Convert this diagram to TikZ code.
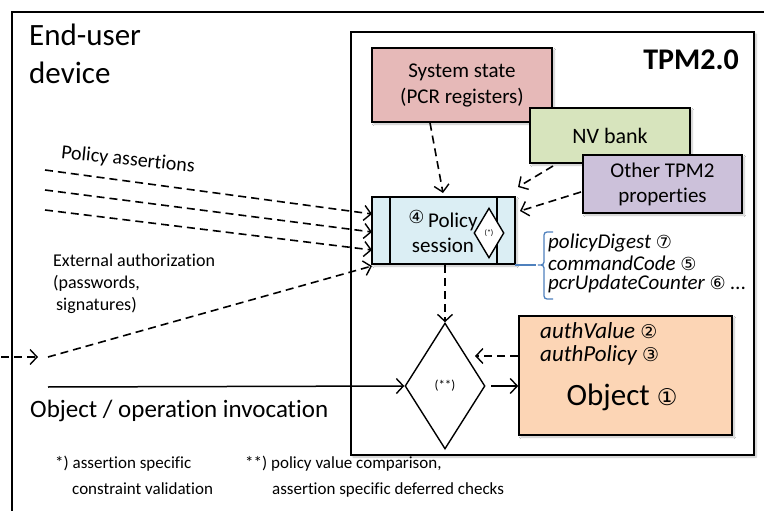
\documentclass[tikz,border=0pt]{standalone}
\usepackage{fontspec}
\setmainfont[Ligatures=NoCommon]{Carlito}
\newfontfamily\symfont{DejaVu Sans}
\usetikzlibrary{arrows.meta,shapes.geometric,shadows.blur}

\definecolor{pcrfill}{HTML}{E6B9B8}
\definecolor{nvfill}{HTML}{D7E4BD}
\definecolor{otherfill}{HTML}{CCC1DA}
\definecolor{sessfill}{HTML}{DBEEF4}
\definecolor{objfill}{HTML}{FCD5B5}
\definecolor{bracecol}{HTML}{4F81BD}

% circled reference numbers
\newcommand\cnum[1]{{\symfont #1}}
\newcommand\fs[2]{\fontsize{#1}{#2}\selectfont}

\begin{document}
\begin{tikzpicture}[x=1pt,y=-1pt,
  shade/.style={blur shadow={shadow xshift=2pt,shadow yshift=-2pt,shadow blur steps=6,shadow opacity=25}},
  colbox/.style={draw=black,line width=1.6pt,shade,align=center,inner sep=0pt},
  tip/.style={-{Straight Barb[length=7pt,width=15pt,line width=1.4pt]}},
  dasharrow/.style={dash pattern=on 8pt off 5pt,line width=1.6pt,tip},
  solidarrow/.style={line width=1.5pt,tip},
  txt/.style={inner sep=0pt,align=left}
]
\useasboundingbox (0,0) rectangle (764,511);

% device frame (continues past the right and lower edges)
\draw[line width=1.8pt] (764,12) -- (12,12) -- (12,511);
\node[txt,anchor=north west,font=\fs{31}{38}] (dev) at (29,24) {End-user\\device};

% TPM frame
\node[draw,line width=1.8pt,fill=white,shade,minimum width=403pt,minimum height=423pt,inner sep=0pt] (tpm) at (552.5,243.5) {};
\node[txt,anchor=east,font=\fs{30}{34}\bfseries] (tpmlbl) at (739,60) {TPM2.0};

% state sources
\node[colbox,fill=pcrfill,minimum width=180pt,minimum height=74pt,font=\fs{21}{26}] (sys) at (462,85) {System state\\(PCR registers)};
\node[colbox,fill=nvfill,minimum width=160pt,minimum height=55pt,font=\fs{22}{26}] (nv) at (610,135.5) {NV bank};
\node[colbox,fill=otherfill,minimum width=159pt,minimum height=58pt,font=\fs{21}{25}] (oth) at (662.5,184) {Other TPM2\\properties};

% policy session
\node[colbox,fill=sessfill,minimum width=143pt,minimum height=67pt] (sess) at (443.5,230.5) {};
\draw[line width=1.4pt] (390,197) -- (390,264);
\draw[line width=1.4pt] (497,197) -- (497,264);
\node[txt,align=center,font=\fs{21}{25}] (sesslbl) at (443,231) {\raisebox{4pt}{\cnum{\fs{18}{20}④}}\,Policy\\session};
\node[diamond,draw,line width=1.4pt,fill=white,minimum width=30pt,minimum height=50pt,inner sep=0pt,font=\fs{8}{9}] (chk) at (489,233) {(*)};

% session variables
\draw[bracecol,line width=1.3pt] (515,265) -- (536,265);
\draw[bracecol,line width=1.3pt,rounded corners=3pt] (553,232) -- (544,232) -- (544,265) -- (536,265) -- (544,265) -- (544,299) -- (553,299);
\node[txt,anchor=west,font=\fs{21}{24}\itshape] (pd) at (548,243) {policyDigest \cnum{\upshape\fs{18}{20}⑦}};
\node[txt,anchor=west,font=\fs{21}{24}\itshape] (cc) at (548,263) {commandCode \cnum{\upshape\fs{18}{20}⑤}};
\node[txt,anchor=west,font=\fs{21}{24}\itshape] (pu) at (548,284) {pcrUpdateCounter \cnum{\upshape\fs{18}{20}⑥} ...};

% comparison and object
\node[diamond,draw,line width=1.4pt,fill=white,minimum width=80pt,minimum height=126pt,inner sep=0pt,font=\fs{13}{14}] (cmp) at (445,386) {(**)};
\node[colbox,fill=objfill,minimum width=213pt,minimum height=119pt] (obj) at (625.5,375.5) {};
\node[txt,anchor=west,font=\fs{23}{26}\itshape] (av) at (540,331) {authValue \cnum{\upshape\fs{19}{21}②}};
\node[txt,anchor=west,font=\fs{23}{26}\itshape] (ap) at (540,355) {authPolicy \cnum{\upshape\fs{19}{21}③}};
\node[txt,font=\fs{31}{34}] (objlbl) at (622,397) {Object \cnum{\fs{23}{25}①}};

% inputs to the session
\coordinate (pa1) at (45,170);
\coordinate (pa2) at (45,190);
\coordinate (pa3) at (45,210);
\coordinate (ea) at (48,357);
\coordinate (eain) at (1,357);
\coordinate (eatip) at (38,357);
\coordinate (inv) at (48,387);
\draw[dasharrow] (pa1) -- (372,214);
\draw[dasharrow] (pa2) -- (372,232);
\draw[dasharrow] (pa3) -- (372,250);
\draw[dasharrow] (ea) -- (372,266);
\draw[dasharrow] (eain) -- (eatip);
\node[txt,rotate=-6,font=\fs{20}{22}] (palbl) at (128,160) {Policy assertions};
\node[txt,anchor=north west,font=\fs{18}{22}] (ealbl) at (53,254) {External authorization\\(passwords,\\ \,signatures)};

\draw[dasharrow] ([xshift=-32pt]sys.south) -- (443,193);
\draw[dasharrow] (553,166) -- (518,187);
\draw[dasharrow] (581,192) -- (520,211);

% session to comparison, comparison to object
\draw[dasharrow] (445,265) -- (cmp.north);
\draw[dasharrow] (obj.west |- 0,356) -- (475,356);
\draw[solidarrow] (inv) -- (cmp.west);
\draw[solidarrow] (491,386) -- (obj.west |- 0,386);
\node[txt,anchor=west,font=\fs{25}{28}] (invlbl) at (30,411) {Object / operation invocation};

% footnotes
\node[txt,anchor=north west,font=\fs{17}{26}] (fn1) at (55,456) {*) assertion specific\\\hspace*{17pt}constraint validation};
\node[txt,anchor=north west,font=\fs{17}{26}] (fn2) at (245,456) {**) policy value comparison,\\\hspace*{27pt}assertion specific deferred checks};
\end{tikzpicture}
\end{document}
